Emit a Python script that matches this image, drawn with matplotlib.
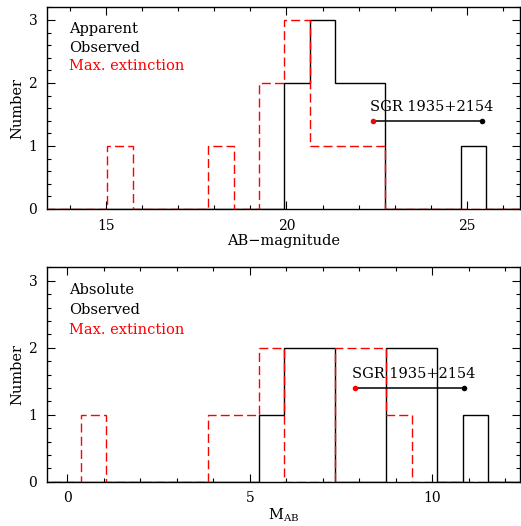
import numpy as np
import matplotlib
matplotlib.use("Agg")
import matplotlib.pyplot as plt
from matplotlib.ticker import MultipleLocator

# ---- data ----
# Apparent AB magnitude histograms (bin start, bin width, counts)
app_start = 15.04
app_width = 0.70
app_observed = [0, 0, 0, 0, 0, 0, 0, 2, 3, 2, 2, 0, 0, 0, 1, 0]
app_maxext = [1, 0, 0, 0, 1, 0, 2, 3, 1, 1, 1, 0, 0, 0, 0, 0]

# Absolute AB magnitude histograms
abs_start = 0.36
abs_width = 0.698
abs_observed = [0, 0, 0, 0, 0, 0, 0, 1, 2, 2, 0, 0, 2, 2, 0, 1]
abs_maxext = [1, 0, 0, 0, 0, 1, 1, 2, 0, 0, 2, 2, 1, 0, 0, 0]

# SGR 1935+2154 (max extinction, observed)
sgr_app = [22.40, 25.41]
sgr_abs = [7.88, 10.87]
sgr_y = 1.4
sgr_label = "SGR 1935+2154"

FONT = "DejaVu Serif"
plt.rcParams["font.family"] = FONT
plt.rcParams["mathtext.fontset"] = "dejavuserif"

fig = plt.figure(figsize=(5.21, 5.26), dpi=100)
ax1 = fig.add_axes([0.0902, 0.6027, 0.908, 0.3834])
ax2 = fig.add_axes([0.0902, 0.0842, 0.908, 0.4076])

PAD = 4


def edges_for(start, width, n):
    return start + width * np.arange(-PAD, n + PAD + 1)


def padded(c):
    return np.concatenate([np.zeros(PAD), np.asarray(c, float), np.zeros(PAD)])


def draw(ax, start, width, obs, mext, sgr, xlim, major, labels, xlabel):
    e = edges_for(start, width, len(obs))
    ax.stairs(padded(obs), e, color="black", lw=1.0, baseline=None, zorder=2)
    ax.stairs(padded(mext), e, color="#ff0000", lw=1.0, baseline=None,
              linestyle=(0, (6.5, 3)), zorder=3)
    ax.plot(sgr, [sgr_y, sgr_y], color="black", lw=1.1, zorder=4)
    ax.plot([sgr[0]], [sgr_y], "o", color="#ff0000", ms=4, mec="none", zorder=5)
    ax.plot([sgr[1]], [sgr_y], "o", color="black", ms=4, mec="none", zorder=5)
    ax.text(sgr[0] - 0.08, sgr_y + 0.1, sgr_label, fontsize=10.5,
            ha="left", va="bottom")
    ax.set_xlim(*xlim)
    ax.set_ylim(0, 3.2)
    ax.xaxis.set_major_locator(MultipleLocator(major))
    ax.xaxis.set_minor_locator(MultipleLocator(1))
    ax.yaxis.set_major_locator(MultipleLocator(1))
    ax.yaxis.set_minor_locator(MultipleLocator(0.2))
    ax.tick_params(which="both", direction="in", top=True, right=True,
                   width=0.8, labelsize=10, pad=7)
    ax.tick_params(which="major", length=5.5)
    ax.tick_params(which="minor", length=3)
    for s in ax.spines.values():
        s.set_linewidth(1.0)
    ax.set_ylabel("Number", fontsize=10.5, labelpad=3)
    ax.set_xlabel(xlabel, fontsize=10.5, labelpad=1)
    ys = [0.893, 0.80, 0.708]
    cols = ["black", "black", "#ff0000"]
    for t, y, c in zip(labels, ys, cols):
        ax.text(0.047, y, t, transform=ax.transAxes, fontsize=10.5,
                color=c, ha="left", va="center")


draw(ax1, app_start, app_width, app_observed, app_maxext, sgr_app,
     (13.37, 26.47), 5, ["Apparent", "Observed", "Max. extinction"],
     "AB\u2212magnitude")
draw(ax2, abs_start, abs_width, abs_observed, abs_maxext, sgr_abs,
     (-0.56, 12.4), 5, ["Absolute", "Observed", "Max. extinction"],
     r"M$_{\mathrm{AB}}$")

fig.savefig("out.png", dpi=100)
